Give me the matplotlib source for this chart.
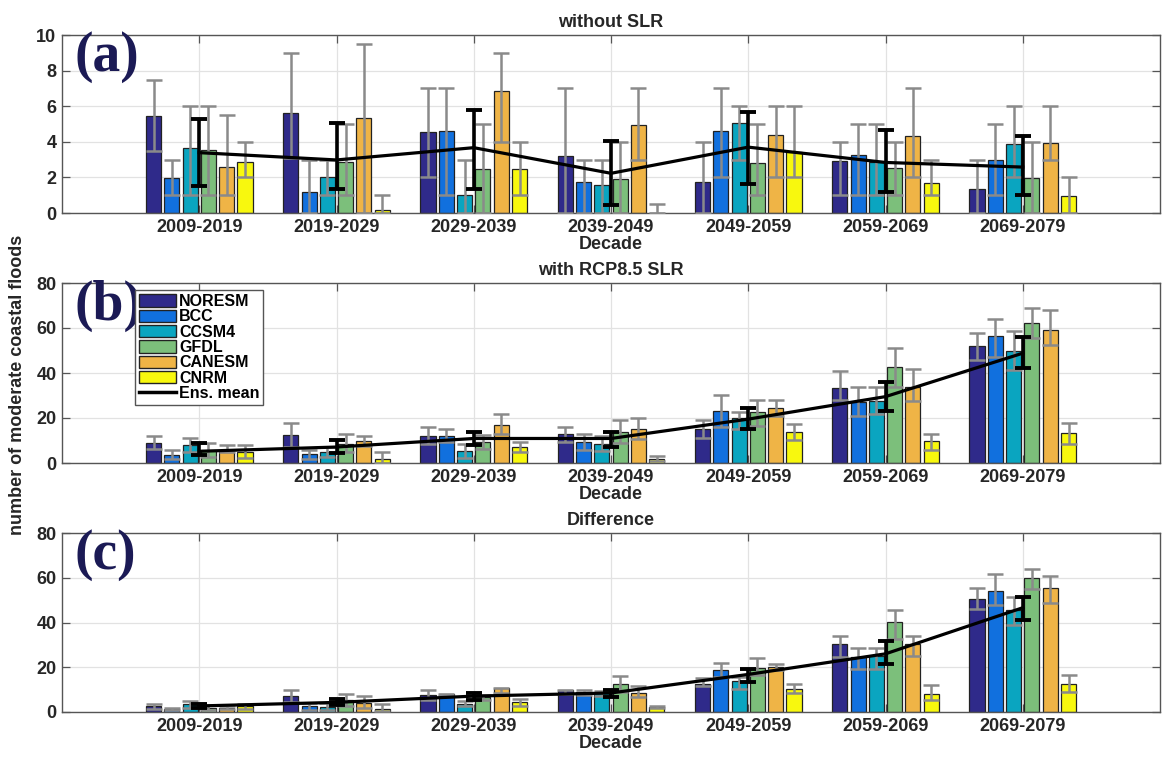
import numpy as np
import matplotlib
matplotlib.use("Agg")
import matplotlib.pyplot as plt
from matplotlib.patches import Patch
from matplotlib.lines import Line2D

# ---------------- data ----------------
decades = ["2009-2019", "2019-2029", "2029-2039", "2039-2049",
           "2049-2059", "2059-2069", "2069-2079"]
models = ["NORESM", "BCC", "CCSM4", "GFDL", "CANESM", "CNRM"]
model_colors = ["#2f2a8a", "#1170de", "#0aa5c0", "#7cbf7b", "#efb446", "#f8f80e"]

# panel (a): without SLR
a_values = [
    [5.47, 5.64, 4.53, 3.20, 1.76, 2.90, 1.36],
    [1.98, 1.16, 4.62, 1.72, 4.62, 3.27, 2.99],
    [3.63, 2.00, 0.99, 1.57, 5.07, 2.84, 3.89],
    [3.54, 2.88, 2.45, 1.90, 2.80, 2.54, 1.98],
    [2.60, 5.32, 6.85, 4.95, 4.39, 4.32, 3.93],
    [2.88, 0.15, 2.45, 0.00, 3.40, 1.66, 0.93],
]
a_high = [
    [7.5, 9.0, 7.0, 7.0, 4.0, 4.0, 3.0],
    [3.0, 3.0, 7.0, 3.0, 7.0, 5.0, 5.0],
    [6.0, 3.0, 3.0, 3.0, 6.0, 5.0, 6.0],
    [6.0, 5.0, 5.0, 4.0, 5.0, 4.0, 4.0],
    [5.5, 9.5, 9.0, 7.0, 6.0, 7.0, 6.0],
    [4.0, 1.0, 4.0, 0.5, 6.0, 3.0, 2.0],
]
a_low = [
    [3.5, 3.07, 2.0, 0.0, 0.0, 1.0, 0.0],
    [1.0, 0.0, 1.0, 0.0, 2.0, 1.0, 1.0],
    [1.0, 1.0, 0.0, 0.0, 3.0, 1.0, 2.0],
    [1.0, 1.0, 0.0, 0.0, 1.0, 1.0, 0.0],
    [1.0, 0.0, 4.0, 3.0, 2.0, 2.0, 3.0],
    [2.0, 0.0, 1.0, 0.0, 2.0, 1.0, 0.0],
]
a_mean = [3.39, 2.98, 3.67, 2.23, 3.70, 2.84, 2.58]
a_mean_high = [5.28, 5.07, 5.79, 4.04, 5.66, 4.67, 4.32]
a_mean_low = [1.52, 1.33, 1.33, 0.45, 1.64, 1.16, 1.00]

# panel (b): with RCP8.5 SLR
b_values = [
    [9.1, 12.5, 12.1, 12.8, 15.0, 33.5, 51.9],
    [3.7, 3.9, 12.1, 9.5, 23.2, 27.2, 56.5],
    [7.9, 4.9, 5.2, 8.6, 20.2, 27.5, 49.7],
    [5.7, 8.6, 9.4, 13.8, 22.5, 42.7, 62.2],
    [4.9, 9.8, 17.1, 15.3, 24.6, 33.9, 59.2],
    [4.9, 1.6, 7.1, 2.0, 13.8, 9.7, 13.5],
]
b_high = [
    [12.0, 18.0, 16.1, 16.1, 19.0, 41.0, 58.0],
    [5.7, 5.7, 14.9, 13.1, 30.4, 33.9, 64.1],
    [10.9, 7.1, 8.3, 12.0, 22.8, 33.9, 58.5],
    [8.9, 13.1, 12.5, 19.0, 28.0, 51.3, 68.8],
    [8.0, 12.0, 21.7, 20.1, 28.0, 41.8, 68.2],
    [8.0, 4.9, 9.2, 3.0, 17.4, 13.1, 17.9],
]
b_low = [
    [6.1, 7.0, 8.6, 9.5, 11.2, 28.0, 45.8],
    [1.7, 2.0, 9.3, 6.0, 16.1, 21.0, 47.0],
    [4.9, 2.7, 2.1, 5.2, 14.9, 21.7, 41.4],
    [2.5, 4.9, 6.3, 9.0, 16.5, 33.9, 55.5],
    [4.9, 7.6, 12.8, 10.5, 21.1, 27.5, 52.5],
    [2.4, 0.0, 4.9, 1.0, 10.1, 5.7, 8.6],
]
b_mean = [5.2, 7.1, 10.9, 10.9, 19.5, 29.5, 48.8]
b_mean_high = [8.9, 10.1, 13.8, 13.8, 24.6, 36.2, 55.8]
b_mean_low = [3.4, 4.5, 7.9, 7.1, 14.9, 23.1, 42.1]

# panel (c): difference
c_values = [
    [2.5, 7.0, 7.6, 9.7, 12.6, 30.5, 50.6],
    [1.5, 2.5, 7.9, 8.9, 18.6, 24.6, 53.9],
    [3.5, 2.2, 3.7, 8.5, 13.7, 24.9, 45.7],
    [2.0, 5.2, 6.7, 12.4, 19.8, 40.2, 60.0],
    [1.8, 4.0, 10.6, 8.5, 20.1, 30.2, 55.5],
    [2.5, 1.5, 4.5, 2.2, 10.1, 8.2, 12.6],
]
c_high = [
    [3.5, 10.0, 9.7, 10.0, 15.2, 33.8, 55.4],
    [2.0, 4.0, 8.2, 9.7, 21.9, 28.7, 61.5],
    [5.0, 4.0, 4.9, 9.5, 15.6, 28.7, 51.6],
    [3.0, 8.0, 7.5, 16.2, 24.1, 45.4, 63.7],
    [2.5, 7.0, 10.9, 11.8, 21.6, 33.8, 61.0],
    [3.5, 3.4, 6.0, 2.7, 12.6, 12.2, 16.4],
]
c_low = [
    [1.5, 4.5, 5.5, 8.0, 11.5, 24.6, 46.1],
    [1.0, 1.0, 7.0, 7.5, 15.6, 19.3, 47.6],
    [2.0, 1.0, 2.5, 7.0, 10.4, 19.3, 38.7],
    [1.0, 2.8, 5.5, 8.9, 16.4, 32.7, 55.1],
    [1.2, 2.0, 8.5, 6.5, 18.9, 24.9, 48.7],
    [1.5, 0.5, 2.7, 1.7, 8.5, 5.2, 8.9],
]
c_mean = [2.7, 4.3, 7.1, 8.5, 16.8, 26.0, 46.6]
c_mean_high = [3.4, 6.0, 8.5, 10.0, 19.3, 31.7, 51.6]
c_mean_low = [2.0, 3.0, 5.5, 6.7, 13.4, 21.6, 41.2]

titles = ["without SLR", "with RCP8.5 SLR", "Difference"]
panel_tags = ["(a)", "(b)", "(c)"]
ylims = [(0, 10), (0, 80), (0, 80)]
yticks = [np.arange(0, 11, 2), np.arange(0, 81, 20), np.arange(0, 81, 20)]

# ---------------- figure ----------------
plt.rcParams['font.family'] = ['Liberation Sans', 'DejaVu Sans']
plt.rcParams['font.weight'] = 'bold'

W, H = 1165, 757
fig = plt.figure(figsize=(W / 100, H / 100), dpi=100)

# axes boxes in pixel coords (left, top, right, bottom)
boxes = [(62, 35, 1160, 213), (62, 283, 1160, 463), (62, 533, 1160, 712)]

panels = [
    (a_values, a_low, a_high, a_mean, a_mean_low, a_mean_high),
    (b_values, b_low, b_high, b_mean, b_mean_low, b_mean_high),
    (c_values, c_low, c_high, c_mean, c_mean_low, c_mean_high),
]

x = np.arange(1, len(decades) + 1)
slot = 0.8 / len(models)
bw = slot * 0.82
txt_col = "#262626"

for i, (vals, lows, highs, mean, mlow, mhigh) in enumerate(panels):
    l, t, r, b = boxes[i]
    ax = fig.add_axes([l / W, 1 - b / H, (r - l) / W, (b - t) / H])
    ax.set_axisbelow(True)
    for m in range(len(models)):
        v = np.array(vals[m])
        lo = np.array(lows[m])
        hi = np.array(highs[m])
        xm = x + (m - (len(models) - 1) / 2) * slot
        ax.bar(xm, v, width=bw, color=model_colors[m], edgecolor="#222222",
               linewidth=0.9, zorder=2)
        ax.errorbar(xm, v, yerr=[v - lo, hi - v], fmt="none", ecolor="#8a8a8a",
                    elinewidth=1.8, capsize=5.5, capthick=1.8, zorder=3)
    mean = np.array(mean)
    ax.plot(x, mean, color="black", lw=2.3, zorder=4)
    ax.errorbar(x, mean, yerr=[mean - np.array(mlow), np.array(mhigh) - mean],
                fmt="none", ecolor="black", elinewidth=2.6, capsize=6,
                capthick=2.8, zorder=5)

    ax.set_xlim(0, 8)
    ax.set_ylim(*ylims[i])
    ax.set_xticks(x)
    ax.set_xticklabels(decades)
    ax.set_yticks(yticks[i])
    ax.grid(True, color="#e2e2e2", lw=0.9)
    ax.tick_params(direction="in", top=True, right=True, length=6, width=0.9,
                   color="#555555", labelsize=13, labelcolor=txt_col, pad=4)
    for lab in ax.get_xticklabels() + ax.get_yticklabels():
        lab.set_fontweight("bold")
    for s in ax.spines.values():
        s.set_color("#555555")
        s.set_linewidth(1.0)
    ax.set_title(titles[i], fontsize=13, fontweight="bold", color=txt_col, pad=6)
    ax.set_xlabel("Decade", fontsize=13, fontweight="bold", color=txt_col,
                  labelpad=0)
    ax.text(0.011, 1.02, panel_tags[i], transform=ax.transAxes, va="top",
            ha="left", fontsize=40, fontweight="bold", color="#1b1a55",
            family=["Liberation Serif", "DejaVu Serif"], zorder=6)

    if i == 1:
        handles = [Patch(facecolor=c, edgecolor="#222222", lw=1.0)
                   for c in model_colors]
        handles.append(Line2D([], [], color="black", lw=2.5))
        leg = ax.legend(handles, models + ["Ens. mean"], loc="upper left",
                        bbox_to_anchor=((135 - l) / (r - l), 1 - (290 - t) / (b - t)),
                        prop={"family": "Liberation Sans", "weight": "bold", "size": 11.5},
                        handlelength=2.3, handleheight=0.8, handletextpad=0.2,
                        labelspacing=0.02, borderpad=0.25, borderaxespad=0,
                        frameon=True, fancybox=False, framealpha=1)
        leg.get_frame().set_edgecolor("#555555")
        leg.get_frame().set_linewidth(1.0)
        leg.set_zorder(7)

fig.text(18 / W, 1 - 385 / H, "number of moderate coastal floods", rotation=90,
         ha="center", va="center", fontsize=13, fontweight="bold", color=txt_col)

fig.savefig("out.png", dpi=100)
